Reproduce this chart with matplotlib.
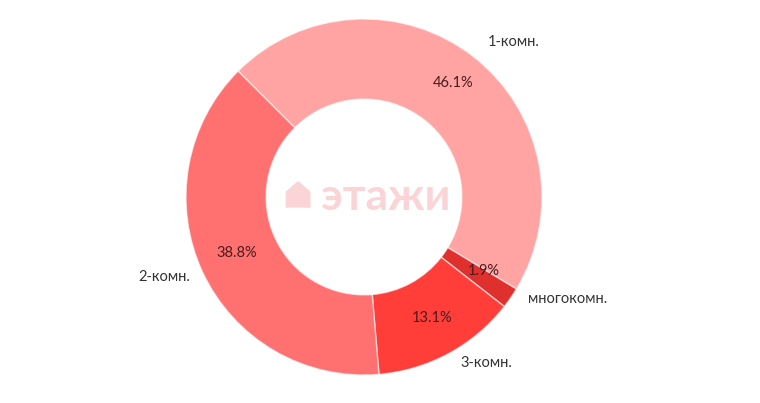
import numpy as np
import matplotlib
matplotlib.use("Agg")
import matplotlib.pyplot as plt
from matplotlib.patches import Polygon

categories = ["1-комн.", "многокомн.", "3-комн.", "2-комн."]
shares = [46.1, 1.9, 13.1, 38.8]
colors = ["#FFA3A3", "#E0302E", "#FF3E3A", "#FF7070"]

plt.rcParams['font.family'] = ['Lato', 'DejaVu Sans']

W, H = 760, 403
fig = plt.figure(figsize=(W / 100, H / 100), dpi=100)
cx, cy, R = 364, 197, 178
ax = fig.add_axes([(cx - R) / W, (H - cy - R) / H, 2 * R / W, 2 * R / H])

wedges, _ = ax.pie(shares, colors=colors, startangle=135, counterclock=False,
                   radius=1.0, wedgeprops=dict(width=0.45, edgecolor=(1, 1, 1, 0.6), linewidth=1.0))
ax.set_xlim(-1, 1)
ax.set_ylim(-1, 1)
ax.set_aspect('equal')
ax.axis('off')

# label placement tweaks (angle offset in degrees, radius) per category
label_adj = {"1-комн.": (-6, 1.21), "многокомн.": (8, 1.28), "3-комн.": (8, 1.16), "2-комн.": (-3, 1.21)}
pct_adj = {"1-комн.": (0, 0.81), "многокомн.": (3, 0.79), "3-комн.": (1, 0.78), "2-комн.": (-1, 0.78)}

for w, cat, val in zip(wedges, categories, shares):
    mid = (w.theta1 + w.theta2) / 2
    da, r = label_adj[cat]
    a = np.deg2rad(mid + da)
    ax.text(r * np.cos(a), r * np.sin(a), cat, ha='center', va='center',
            fontsize=10.5, color='#333333', clip_on=False)
    da, r = pct_adj[cat]
    a = np.deg2rad(mid + da)
    ax.text(r * np.cos(a), r * np.sin(a), f"{val:.1f}%", ha='center', va='center',
            fontsize=10.5, color='#4a1c1c')

# watermark
ax.text(0.12, 0.0, "этажи", ha='center', va='center', fontsize=32,
        fontweight='bold', color='#FAD4D6')
house = Polygon([(-0.44, -0.06), (-0.44, 0.03), (-0.37, 0.09), (-0.30, 0.03), (-0.30, -0.06)],
                closed=True, facecolor='#FAD4D6', edgecolor='none')
ax.add_patch(house)

fig.savefig("out.png", dpi=100)
